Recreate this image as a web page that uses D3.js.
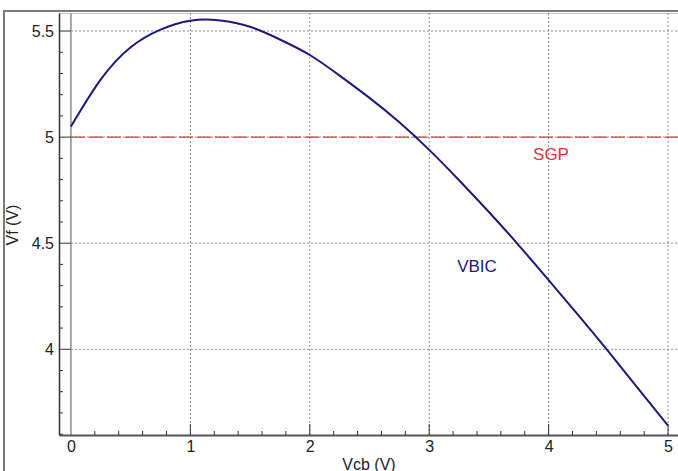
<!DOCTYPE html>
<html>
<head>
<meta charset="utf-8" />
<script src="https://cdn.jsdelivr.net/npm/d3@7"></script>
<title>Vf vs Vcb</title>
<style>
body { margin: 0; background: #fff; }
text { font-family: "Liberation Sans", Arial, sans-serif; }
</style>
</head>
<body>
<script>
// VBIC curve
const vcb = [0, 0.25, 0.5, 0.75, 1.0, 1.25, 1.5, 1.75, 2.0, 2.25, 2.5, 2.75, 3.0, 3.25, 3.5, 3.75, 4.0, 4.25, 4.5, 4.75, 5.0];
const vf = [5.05, 5.272, 5.424, 5.507, 5.549, 5.55, 5.52, 5.46, 5.387, 5.29, 5.185, 5.07, 4.94, 4.797, 4.647, 4.49, 4.326, 4.16, 3.99, 3.815, 3.64];
const sgpLevel = 5;
const xTicks = [0, 1, 2, 3, 4, 5];
const yTicks = [4, 4.5, 5, 5.5];

const w = 678, h = 471;
const svg = d3.select("body").append("svg")
  .attr("width", w).attr("height", h);

const x = d3.scaleLinear().domain([-0.1, 5.1]).range([59, 680]);
const y = d3.scaleLinear().domain([3.596, 5.585]).range([435, 13]);

// outer frame
svg.append("rect")
  .attr("x", 4).attr("y", 11)
  .attr("width", w + 10).attr("height", h)
  .attr("fill", "none").attr("stroke", "#7a7a7a").attr("stroke-width", 2);
svg.append("line")
  .attr("x1", 59).attr("x2", w).attr("y1", 13.5).attr("y2", 13.5)
  .attr("stroke", "#c4c4c4").attr("stroke-width", 1);

// grid
svg.append("g").selectAll("line").data(xTicks.filter(d => d > 0)).join("line")
  .attr("x1", d => x(d)).attr("x2", d => x(d))
  .attr("y1", y.range()[1]).attr("y2", y.range()[0])
  .attr("stroke", "#8a8a8a").attr("stroke-dasharray", "2,2");
svg.append("g").selectAll("line").data(yTicks).join("line")
  .attr("x1", x(0)).attr("x2", w)
  .attr("y1", d => y(d)).attr("y2", d => y(d))
  .attr("stroke", "#8a8a8a").attr("stroke-dasharray", "2,2");

// zero line
svg.append("line")
  .attr("x1", x(0)).attr("x2", x(0))
  .attr("y1", 13).attr("y2", 435)
  .attr("stroke", "#a8a8a8").attr("stroke-width", 2);

// axes
const yAxis = d3.axisLeft(y).tickValues(yTicks).tickSize(0).tickPadding(5)
  .tickFormat(d3.format("~g"));
const gy = svg.append("g").attr("transform", `translate(59,0)`).call(yAxis);
gy.select(".domain").attr("stroke", "#333").attr("stroke-width", 1.5);
gy.selectAll("text").attr("font-size", 16).attr("fill", "#222");

const xAxis = d3.axisBottom(x).tickValues(xTicks).tickSize(0).tickPadding(6)
  .tickFormat(d3.format("d"));
const gx = svg.append("g").attr("transform", `translate(0,435)`).call(xAxis);
gx.select(".domain").attr("stroke", "#555").attr("stroke-width", 2);
gx.selectAll("text").attr("font-size", 16).attr("fill", "#222");

// ticks drawn inward
const yMinor = d3.range(36, 56).map(d => d / 10);
svg.append("g").selectAll("line").data(yMinor).join("line")
  .attr("x1", 59).attr("x2", d => yTicks.includes(d) ? x(0) : 63)
  .attr("y1", d => y(d)).attr("y2", d => y(d))
  .attr("stroke", "#333").attr("stroke-width", 1);
const xMinor = d3.range(1, 26).map(d => d / 5);
svg.append("g").selectAll("line").data(xMinor).join("line")
  .attr("x1", d => x(d)).attr("x2", d => x(d))
  .attr("y1", 435).attr("y2", d => Number.isInteger(d) ? 424 : 431)
  .attr("stroke", "#333").attr("stroke-width", 1);

// SGP line
svg.append("line")
  .attr("x1", x(0)).attr("x2", w)
  .attr("y1", y(sgpLevel)).attr("y2", y(sgpLevel))
  .attr("stroke", "#e0343c").attr("stroke-width", 1.2)
  .attr("stroke-dasharray", "14,4");

// VBIC curve
const pts = vcb.map((d, i) => [d, vf[i]]);
svg.append("path").datum(pts)
  .attr("fill", "none").attr("stroke", "#1a1a7e").attr("stroke-width", 2)
  .attr("d", d3.line().x(d => x(d[0])).y(d => y(d[1])).curve(d3.curveNatural));

// labels
svg.append("text").attr("x", 551).attr("y", 160).attr("text-anchor", "middle")
  .attr("font-size", 17).attr("fill", "#e0343c").text("SGP");
svg.append("text").attr("x", 477).attr("y", 272).attr("text-anchor", "middle")
  .attr("font-size", 17).attr("fill", "#1a1a7e").text("VBIC");

svg.append("text").attr("x", 369).attr("y", 470).attr("text-anchor", "middle")
  .attr("font-size", 16).attr("fill", "#222").text("Vcb (V)");
svg.append("text").attr("transform", "translate(18,225) rotate(-90)")
  .attr("text-anchor", "middle")
  .attr("font-size", 16).attr("fill", "#222").text("Vf (V)");
</script>
</body>
</html>
